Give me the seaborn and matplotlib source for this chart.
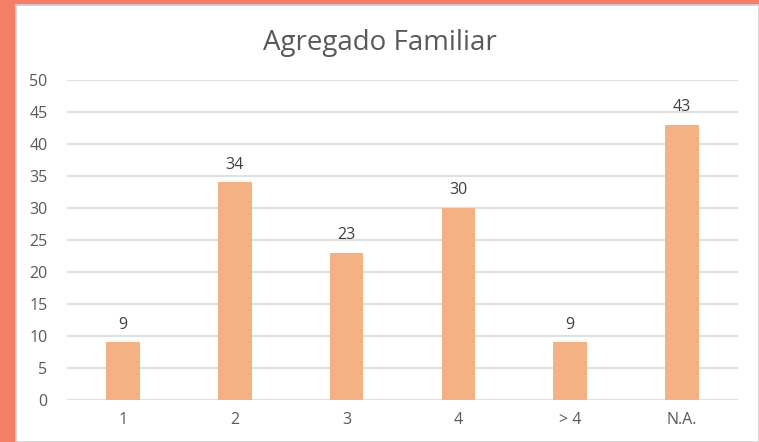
import pandas as pd
import seaborn as sns
import matplotlib.pyplot as plt
from matplotlib.patches import Rectangle

categorias = ['1', '2', '3', '4', '> 4', 'N.A.']
valores = [9, 34, 23, 30, 9, 43]

df = pd.DataFrame({'cat': categorias, 'val': valores})

sns.set_style('white')
plt.rcParams['font.family'] = ['Open Sans', 'DejaVu Sans']

fig = plt.figure(figsize=(7.59, 4.42), dpi=100, facecolor='#F37F67')
# painel branco do gráfico
fig.patches.append(Rectangle((16 / 759, 0), 1 - 16 / 759, 1 - 5 / 442,
                             transform=fig.transFigure, facecolor='white',
                             edgecolor='#D0D0D0', linewidth=1.2, zorder=-5))

ax = fig.add_axes([67 / 759, 1 - 400 / 442, (738 - 67) / 759, (400 - 80) / 442])
ax.set_facecolor('none')
sns.barplot(data=df, x='cat', y='val', color='#F4B183', width=0.3,
            saturation=1, linewidth=0, ax=ax, zorder=3)

for c in ax.containers:
    ax.bar_label(c, padding=7, fontsize=11.5, color='#404040')

ax.set_ylim(0, 50)
ax.set_yticks(range(0, 51, 5))
ax.grid(axis='y', color='#D9D9D9', linewidth=1.2, zorder=0)
sns.despine(ax=ax, left=True, bottom=True)
ax.tick_params(axis='both', length=0, labelsize=11.5, labelcolor='#595959')
ax.tick_params(axis='y', pad=14)
ax.tick_params(axis='x', pad=9)
ax.set_xlabel('')
ax.set_ylabel('')
fig.text(0.5, 1 - 43 / 442, 'Agregado Familiar', ha='center', va='center',
         fontsize=20, color='#595959')

fig.savefig('out.png', dpi=100, facecolor=fig.get_facecolor())
